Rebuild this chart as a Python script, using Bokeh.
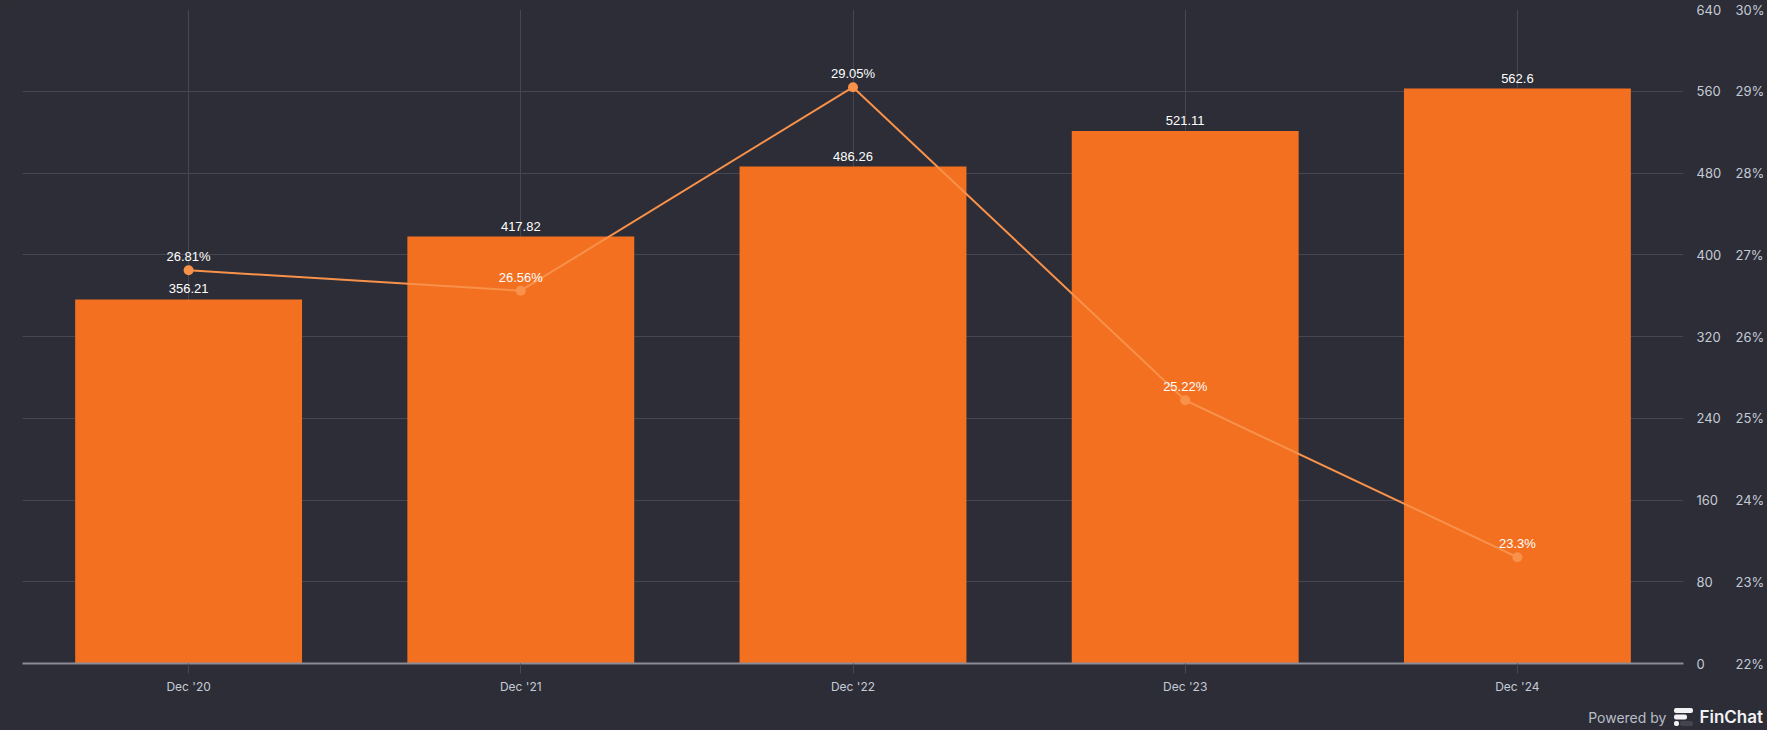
from bokeh.plotting import figure
from bokeh.layouts import column
from bokeh.models import (Range1d, LinearAxis, FixedTicker, PrintfTickFormatter,
                          ColumnDataSource, LabelSet, Div)
from bokeh.embed import file_html
from bokeh.resources import INLINE
from bokeh.core.properties import value

# ---- data ----
periods = ["Dec '20", "Dec '21", "Dec '22", "Dec '23", "Dec '24"]
bar_values = [356.21, 417.82, 486.26, 521.11, 562.6]
pct_values = [26.81, 26.56, 29.05, 25.22, 23.3]
bar_labels = ["356.21", "417.82", "486.26", "521.11", "562.6"]
pct_labels = ["26.81%", "26.56%", "29.05%", "25.22%", "23.3%"]
left_ticks = [0, 80, 160, 240, 320, 400, 480, 560, 640]
pct_ticks = [22, 23, 24, 25, 26, 27, 28, 29, 30]

BG = "#2c2d36"
BAR = "#f37021"
LINE = "#f8914a"
GRID = "#464751"
TICKTXT = "#c5cbd6"

src = ColumnDataSource(dict(x=periods, v=bar_values, p=pct_values,
                            vl=bar_labels, pl=pct_labels))

p = figure(x_range=periods, y_range=Range1d(0, 640), width=1767, height=704,
           output_backend="svg", toolbar_location=None, y_axis_location="right",
           background_fill_color=BG, border_fill_color=BG, outline_line_color=None,
           min_border_left=22, min_border_right=76, min_border_top=9, min_border_bottom=41)
p.extra_y_ranges = {"pct": Range1d(22, 30)}

p.vbar(x="x", top="v", width=0.683, source=src, fill_color=BAR, line_color=None)
p.line(x="x", y="p", source=src, y_range_name="pct", line_color=LINE, line_width=2)
p.scatter(x="x", y="p", source=src, y_range_name="pct", size=10, fill_color=LINE, line_color=None)

p.add_layout(LabelSet(x="x", y="v", text="vl", source=src, text_align="center",
                      text_baseline="bottom", y_offset=6, text_color="#ffffff",
                      text_font=value("Liberation Sans"), text_font_size="13px"))
p.add_layout(LabelSet(x="x", y="p", text="pl", source=src, y_range_name="pct",
                      text_align="center", text_baseline="bottom", y_offset=6,
                      text_color="#ffffff", text_font=value("Liberation Sans"),
                      text_font_size="13px"))

# grids
p.xgrid.grid_line_color = GRID
p.ygrid.grid_line_color = GRID
p.ygrid.ticker = FixedTicker(ticks=left_ticks)

# x axis
xa = p.xaxis[0]
xa.axis_line_color = "#8b8c95"
xa.axis_line_width = 2
xa.major_tick_line_color = "#474852"
xa.major_tick_out = 10
xa.major_tick_in = 0
xa.major_label_standoff = 5
xa.major_label_text_color = TICKTXT
xa.major_label_text_font = "Inter"
xa.major_label_text_font_size = "12px"

# right axis (values)
ya = p.yaxis[0]
ya.ticker = FixedTicker(ticks=left_ticks)
ya.axis_line_color = None
ya.major_tick_line_color = None
ya.minor_tick_line_color = None
ya.major_tick_out = 0
ya.major_tick_in = 0
ya.major_label_standoff = 13
ya.major_label_text_color = TICKTXT
ya.major_label_text_font = "Inter"
ya.major_label_text_font_size = "13px"

# right axis (percent)
pa = LinearAxis(y_range_name="pct", ticker=FixedTicker(ticks=pct_ticks),
                formatter=PrintfTickFormatter(format="%d%%"))
pa.axis_line_color = None
pa.major_tick_line_color = None
pa.minor_tick_line_color = None
pa.major_tick_out = 0
pa.major_tick_in = 0
pa.major_label_standoff = 11
pa.major_label_text_color = TICKTXT
pa.major_label_text_font = "Inter"
pa.major_label_text_font_size = "13px"
p.add_layout(pa, "right")

# footer
logo = ('<svg width="19" height="18" viewBox="0 0 19 18" style="vertical-align:-3px;margin:0 6px 0 8px">'
        '<rect x="0" y="0" width="19" height="5" rx="2" fill="#f2f2f4"/>'
        '<rect x="0" y="6.5" width="13" height="5" rx="2" fill="#f2f2f4"/>'
        '<rect x="0" y="13" width="5" height="5" rx="2" fill="#f2f2f4"/>'
        '<rect x="6" y="13" width="13" height="5" rx="2" fill="#44454f"/>'
        '</svg>')
footer = Div(
    text=('<div style="width:1763px;text-align:right;white-space:nowrap;line-height:26px">'
          '<span style="font-family:Inter;font-size:14px;color:#b9bdc7">Powered by</span>'
          + logo +
          '<span style="font-family:Inter;font-size:17px;font-weight:600;color:#f2f2f4">FinChat</span>'
          '</div>'),
    width=1767, height=26,
    styles={"background-color": BG, "margin": "0"})

layout = column(p, footer, spacing=0, styles={"background-color": BG})
open("out.html", "w").write(file_html(layout, INLINE))
